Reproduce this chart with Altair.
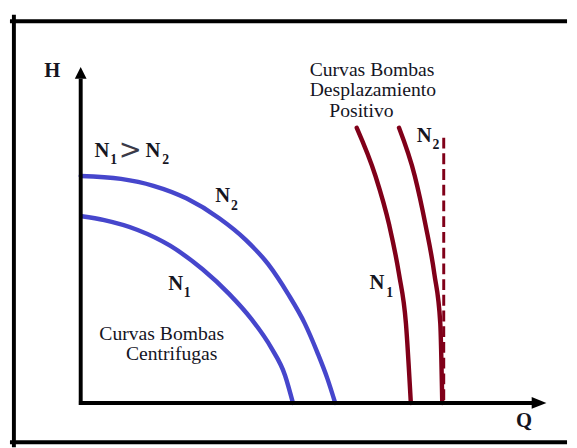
import altair as alt
import pandas as pd

# ---- data (Q = flow, H = head, arbitrary units) ----
cf_n2_q = [0.0, 9.11, 16.44, 24.0, 31.33, 37.33, 42.44, 46.89, 50.67, 53.56, 55.78, 57.56]
cf_n2_h = [92.4, 91.2, 88.4, 83.2, 75.2, 66.4, 56.4, 44.4, 32.4, 20.4, 10.0, 0.0]
cf_n1_q = [0.22, 5.33, 12.89, 20.22, 27.56, 33.56, 38.67, 43.11, 46.22, 48.0]
cf_n1_h = [76.0, 74.4, 70.4, 64.0, 54.4, 44.4, 34.0, 22.4, 11.2, 0.0]
pd_n1_q = [62.44, 66.67, 69.78, 72.0, 73.56, 74.67]
pd_n1_h = [112.0, 92.4, 72.4, 52.4, 32.4, 0.0]
pd_n2_q = [72.0, 75.56, 78.0, 80.0, 81.33, 81.78]
pd_n2_h = [112.0, 92.4, 72.4, 52.4, 32.4, 0.0]
ideal_q = [82.11, 82.11]
ideal_h = [108.0, 0.0]

# plain text labels
plain_txt = ["Curvas Bombas", "Desplazamiento", "Positivo", "Curvas Bombas", "Centrifugas"]
plain_q = [51.78, 51.78, 56.22, 4.22, 10.22]
plain_h = [133.2, 124.8, 116.4, 25.8, 17.6]

# axis titles
axis_txt = ["H", "Q"]
axis_q = [-8.22, 98.44]
axis_h = [132.8, -10.0]

# "N" letters and subscripts
n_q = [3.11, 14.67, 30.44, 19.78, 65.33, 76.0]
n_h = [100.0, 100.0, 82.0, 46.0, 46.4, 106.4]
sub_txt = ["1", "2", "2", "1", "1", "2"]
sub_q = [6.67, 18.44, 34.0, 23.33, 69.11, 79.56]
sub_h = [97.2, 97.2, 78.4, 43.2, 43.2, 103.2]
gt_q = [8.6]
gt_h = [99.4]

XDOM = [-15.778, 108.889]
YDOM = [-16.8, 156.0]

BLUE = "#4646cc"
RED = "#800019"
INK = "#15151f"
SERIF = "Liberation Serif, Times New Roman, serif"

xs = alt.Scale(domain=XDOM, nice=False, zero=False)
ys = alt.Scale(domain=YDOM, nice=False, zero=False)

rows = []
for name, qs, hs in [("cf2", cf_n2_q, cf_n2_h), ("cf1", cf_n1_q, cf_n1_h),
                     ("pd1", pd_n1_q, pd_n1_h), ("pd2", pd_n2_q, pd_n2_h)]:
    for i, (q, h) in enumerate(zip(qs, hs)):
        rows.append({"curve": name, "o": i, "q": q, "h": h})
curves = pd.DataFrame(rows)

lines = alt.Chart(curves).mark_line(strokeWidth=4.5, interpolate="monotone", strokeCap="round").encode(
    x=alt.X("q:Q", scale=xs, axis=None),
    y=alt.Y("h:Q", scale=ys, axis=None),
    detail="curve:N",
    order="o:Q",
    color=alt.Color("curve:N", scale=alt.Scale(domain=["cf1", "cf2", "pd1", "pd2"],
                                               range=[BLUE, BLUE, RED, RED]), legend=None),
)

ideal = alt.Chart(pd.DataFrame({"q": ideal_q, "h": ideal_h})).mark_line(
    strokeWidth=3, strokeDash=[11, 5], color=RED).encode(
    x=alt.X("q:Q", scale=xs, axis=None), y=alt.Y("h:Q", scale=ys, axis=None))

# frame and axes
frame = pd.DataFrame({
    "q": [-15.11, -16.0, -16.0, 0.0, -0.4],
    "q2": [-15.11, 110.0, 110.0, 0.0, 102.4],
    "h": [-18.0, 155.4, -16.0, -0.8, 0.0],
    "h2": [158.0, 155.4, -16.0, 132.0, 0.0],
})
rules = alt.Chart(frame).mark_rule(strokeWidth=4, color="black").encode(
    x=alt.X("q:Q", scale=xs, axis=None), x2="q2:Q",
    y=alt.Y("h:Q", scale=ys, axis=None), y2="h2:Q")

arrow_up = alt.Chart(pd.DataFrame({"q": [0.0], "h": [134.4]})).mark_point(
    shape="M0,-1L1,1L-1,1Z", size=144, filled=True, color="black", opacity=1).encode(
    x=alt.X("q:Q", scale=xs, axis=None), y=alt.Y("h:Q", scale=ys, axis=None))
arrow_right = alt.Chart(pd.DataFrame({"q": [103.67], "h": [0.0]})).mark_point(
    shape="M1,0L-1,-0.8L-1,0.8Z", size=225, filled=True, color="black", opacity=1).encode(
    x=alt.X("q:Q", scale=xs, axis=None), y=alt.Y("h:Q", scale=ys, axis=None))

def text_layer(txt, qs, hs, size, weight, font=SERIF, color=INK):
    df = pd.DataFrame({"t": txt, "q": qs, "h": hs})
    return alt.Chart(df).mark_text(align="left", baseline="alphabetic", font=font,
                                   fontSize=size, fontWeight=weight, color=color).encode(
        x=alt.X("q:Q", scale=xs, axis=None), y=alt.Y("h:Q", scale=ys, axis=None), text="t:N")

plain = text_layer(plain_txt, plain_q, plain_h, 20, "normal")
axes_t = text_layer(axis_txt, axis_q, axis_h, 21, "bold")
n_t = text_layer(["N"] * len(n_q), n_q, n_h, 21, "bold")
sub_t = text_layer(sub_txt, sub_q, sub_h, 14, "bold")
gt_t = text_layer([">"], gt_q, gt_h, 28, "normal", font="DejaVu Sans", color="#3a3a48")

chart = alt.layer(lines, ideal, rules, arrow_up, arrow_right, plain, axes_t, n_t, sub_t, gt_t).properties(
    width=561, height=432, padding=0, background="white"
).configure_view(stroke=None)

chart.save("out.html", embed_options={"renderer": "svg", "actions": False})
